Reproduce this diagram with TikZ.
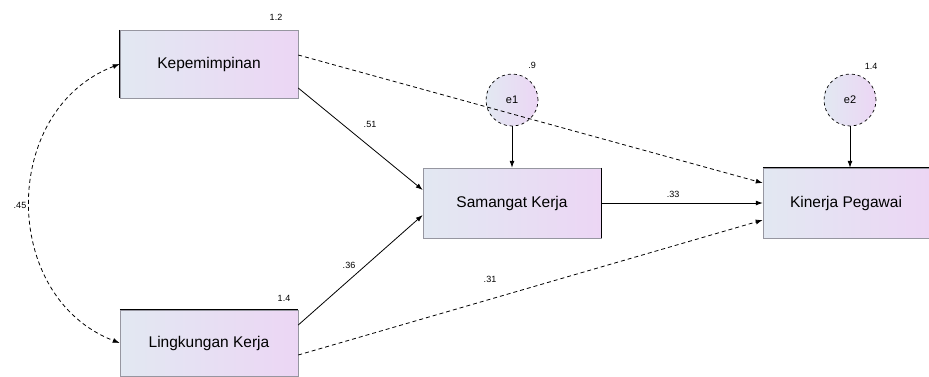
\documentclass[tikz,border=0pt]{standalone}
\usepackage{fontspec}
\setmainfont{Liberation Sans}
\usetikzlibrary{arrows.meta}
\definecolor{boxleft}{RGB}{226,232,242}
\definecolor{boxright}{RGB}{236,214,244}
\definecolor{edgegray}{RGB}{150,150,160}
\tikzset{
  varbox/.style={rectangle, draw=edgegray, line width=0.5pt, left color=boxleft, right color=boxright,
    minimum width=178pt, minimum height=68pt, inner sep=0pt, font=\fontsize{15.5}{17}\selectfont},
  errcirc/.style={circle, draw=black, dashed, line width=0.7pt, left color=boxleft, right color=boxright,
    minimum size=52pt, inner sep=0pt, font=\fontsize{11}{12}\selectfont},
  thickedge/.style={line width=1.4pt, black},
  path/.style={line width=0.8pt, -{Latex[length=7pt,width=5pt]}},
  dpath/.style={line width=0.8pt, dashed, dash pattern=on 4pt off 3pt, -{Latex[length=7pt,width=5pt]}},
  small/.style={font=\fontsize{9}{10}\selectfont, inner sep=1pt}
}
\begin{document}
\begin{tikzpicture}[x=1pt,y=-1pt]
\useasboundingbox (0,0) rectangle (929,376);
\node[varbox] (kep) at (209,64) {Kepemimpinan};
\node[varbox, minimum height=66pt] (lin) at (209,343) {Lingkungan Kerja};
\node[varbox, minimum height=70pt] (sem) at (512,203) {Samangat Kerja};
\node[varbox, minimum width=166pt, minimum height=70pt] (kin) at (846,203) {Kinerja Pegawai};
\node[errcirc] (e1) at (512,100) {e1};
\node[errcirc] (e2) at (850,100) {e2};
% thick edges
\draw[thickedge] (kep.north west) -- (kep.south west);
\draw[thickedge] (lin.north west) -- (lin.north east);
\draw[thickedge] (sem.north east) -- (sem.south east);
\draw[thickedge] (kin.north west) -- (kin.north east);
% variance labels
\node[small] (vkep) at (276,17) {1.2};
\node[small] (vlin) at (284,298) {1.4};
\node[small] (ve1) at (532,65) {.9};
\node[small] (ve2) at (871,66) {1.4};
% covariance
\draw[line width=0.8pt, dashed, dash pattern=on 4pt off 3pt, {Latex[length=7pt,width=5pt]}-{Latex[length=7pt,width=5pt]}]
  (kep.west) .. controls (0,110) and (0,297) .. (lin.west);
\node[small] (cov) at (20,205) {.45};
% paths
\draw[path] ([yshift=-24pt]kep.east) -- ([yshift=13pt]sem.west);
\node[small] (p1) at (370,124) {.51};
\draw[path] ([yshift=18pt]lin.east) -- ([yshift=-12pt]sem.west);
\node[small] (p2) at (349,265) {.36};
\draw[dpath] ([yshift=9pt]kep.east) -- ([yshift=20pt]kin.west);
\draw[dpath] ([yshift=-12pt]lin.east) -- ([yshift=-17pt]kin.west);
\node[small] (p3) at (490,279) {.31};
\draw[path] (sem.east) -- (kin.west);
\node[small] (p4) at (673,194) {.33};
\draw[path] (e1) -- (sem);
\draw[path] (e2) -- ([xshift=4pt]kin.north);
\end{tikzpicture}
\end{document}
